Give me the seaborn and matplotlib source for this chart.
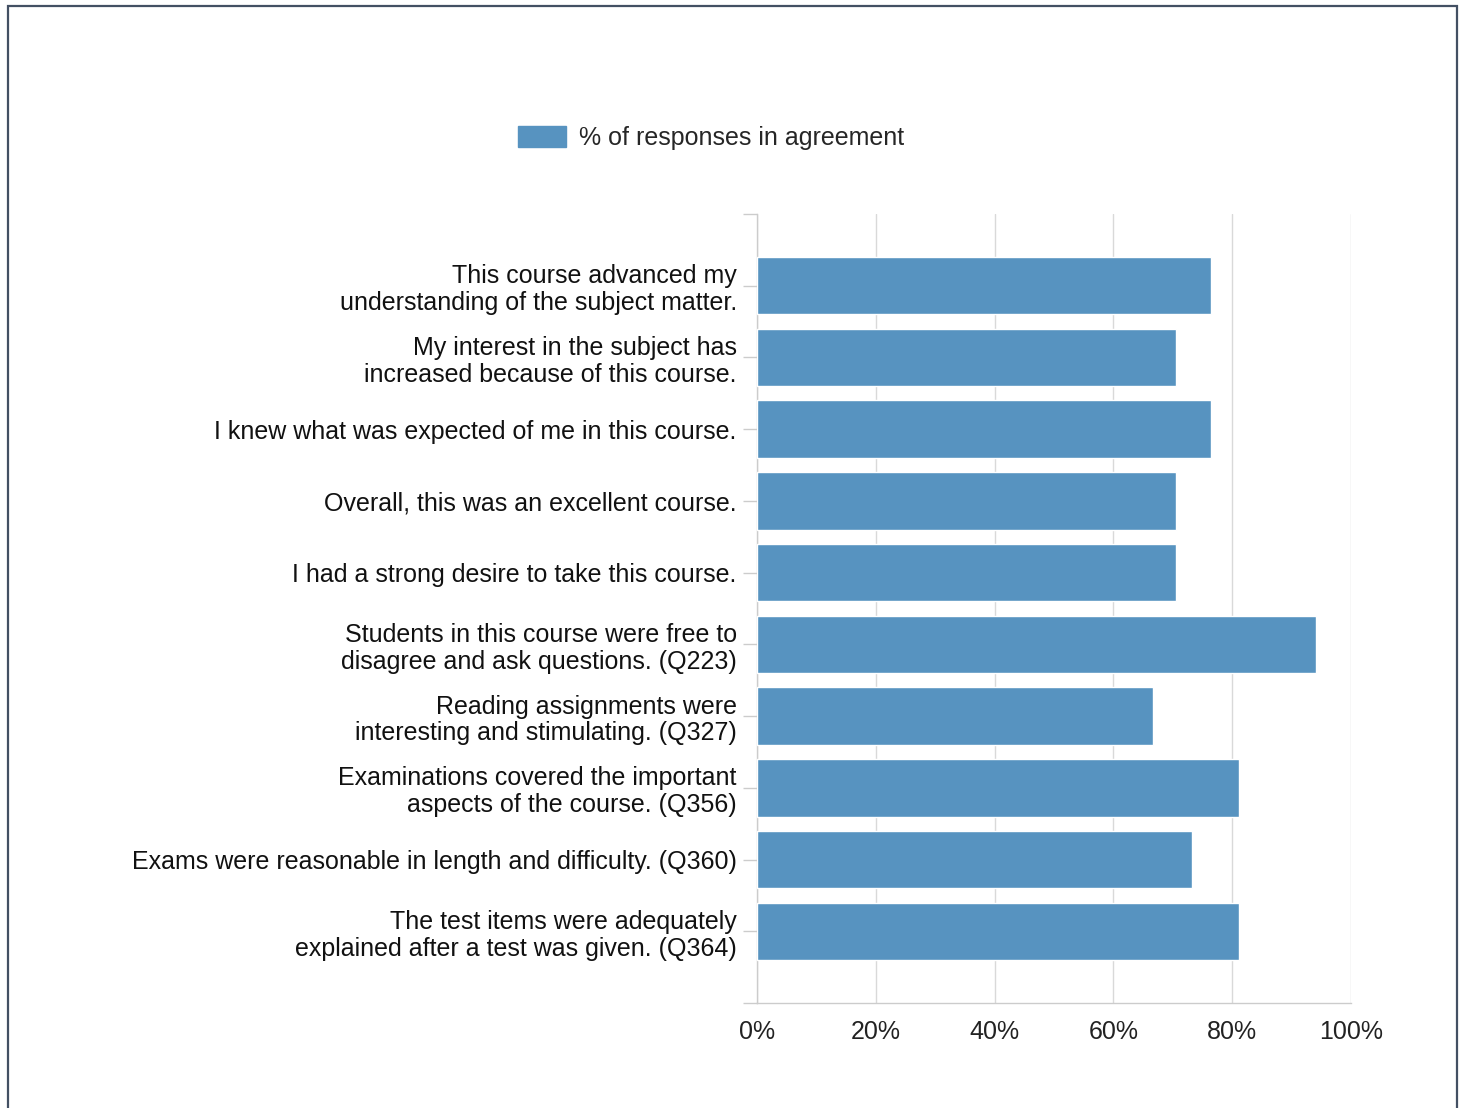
import matplotlib
matplotlib.use("Agg")
import matplotlib.pyplot as plt
import matplotlib.patches as mpatches
import seaborn as sns
import pandas as pd

# data (top to bottom)
questions = [
    "This course advanced my\nunderstanding of the subject matter.",
    "My interest in the subject has\nincreased because of this course.",
    "I knew what was expected of me in this course.",
    "Overall, this was an excellent course.",
    "I had a strong desire to take this course.",
    "Students in this course were free to\ndisagree and ask questions. (Q223)",
    "Reading assignments were\ninteresting and stimulating. (Q327)",
    "Examinations covered the important\naspects of the course. (Q356)",
    "Exams were reasonable in length and difficulty. (Q360)",
    "The test items were adequately\nexplained after a test was given. (Q364)",
]
agreement = [76.5, 70.5, 76.5, 70.5, 70.5, 94.1, 66.6, 81.2, 73.2, 81.2]
x_ticks = [0, 20, 40, 60, 80, 100]
x_labels = ["0%", "20%", "40%", "60%", "80%", "100%"]
series_name = "% of responses in agreement"

bar_color = "#5793c0"
grid_color = "#d9d9d9"

sns.set_style("white")
plt.rcParams["font.family"] = ["Liberation Sans", "DejaVu Sans"]
plt.rcParams["font.size"] = 18

df = pd.DataFrame({"question": questions, "pct": agreement})

fig = plt.figure(figsize=(14.66, 11.08), dpi=100)
ax = fig.add_axes([757 / 1466, 1 - 1003 / 1108, (1351 - 757) / 1466, (1003 - 214) / 1108])

sns.barplot(data=df, x="pct", y="question", orient="h", color=bar_color,
            width=0.8, saturation=1, ax=ax, zorder=3)

ax.set_xlim(0, 100)
ax.set_ylim(len(df), -1)
ax.set_xticks(x_ticks)
ax.set_xticklabels(x_labels, color="#222222")
ax.set_yticks(range(-1, len(df) + 1))
ax.set_yticklabels([""] + questions + [""], color="#111111", linespacing=1.15)
ax.set_xlabel("")
ax.set_ylabel("")

ax.xaxis.grid(True, color=grid_color, linewidth=1, zorder=0)
ax.tick_params(axis="y", left=True, length=10, width=1, color="#cccccc", pad=4.5)
ax.tick_params(axis="x", length=0, pad=12)
for side in ["top", "right"]:
    ax.spines[side].set_visible(False)
ax.spines["left"].set_color("#cccccc")
ax.spines["bottom"].set_color("#cccccc")
ax.spines["left"].set_linewidth(1)
ax.spines["bottom"].set_linewidth(1)

handle = mpatches.Patch(color=bar_color, label=series_name)
fig.legend(handles=[handle], loc="center", bbox_to_anchor=(0.485, 1 - 138 / 1108),
           frameon=False, handlelength=1.92, handleheight=0.88, handletextpad=0.5,
           fontsize=18)

# outer frame
border = mpatches.Rectangle((8 / 1466, -0.01), (1457 - 8) / 1466, 1.01 - 6 / 1108,
                            transform=fig.transFigure, fill=False,
                            edgecolor="#435063", linewidth=1.6)
fig.patches.append(border)

fig.savefig("out.png", dpi=100)
